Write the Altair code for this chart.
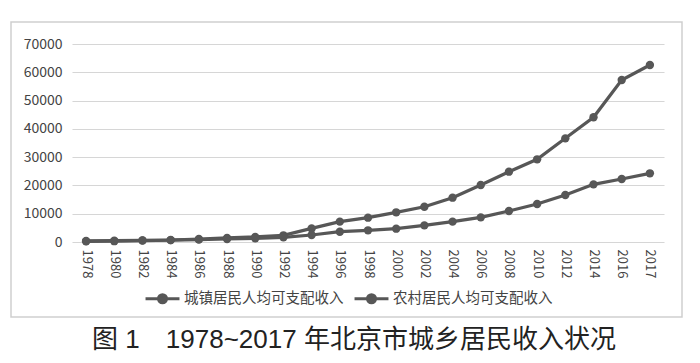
import altair as alt
import pandas as pd

years = ["1978", "1980", "1982", "1984", "1986", "1988", "1990", "1992", "1994", "1996",
         "1998", "2000", "2002", "2004", "2006", "2008", "2010", "2012", "2014", "2016", "2017"]
urban = [365, 500, 560, 700, 1067, 1437, 1787, 2364, 4800, 7190,
         8600, 10490, 12480, 15670, 20150, 24860, 29230, 36650, 44085, 57272, 62575]
rural = [225, 290, 520, 665, 837, 1063, 1300, 1650, 2470, 3640,
         4130, 4710, 5890, 7190, 8720, 10960, 13430, 16600, 20380, 22270, 24280]
series = ["城镇居民人均可支配收入", "农村居民人均可支配收入"]
yticks = [0, 10000, 20000, 30000, 40000, 50000, 60000, 70000]

rows = []
for name, vals in zip(series, [urban, rural]):
    for yr, v in zip(years, vals):
        rows.append({"year": yr, "value": v, "series": name})
df = pd.DataFrame(rows)

FONT = "Noto Sans CJK SC"
TFONT = "Liberation Sans, Noto Sans CJK SC"
GRAY = "#575757"
legend_sym = "M-1.6,0L1.6,0M-0.38,0a0.38,0.38 0 1,0 0.76,0a0.38,0.38 0 1,0 -0.76,0"

base = alt.Chart(df).encode(
    x=alt.X("year:O", sort=years, title=None,
            axis=alt.Axis(labelAngle=90, labelAlign="left", labelBaseline="middle",
                          labelFontSize=13, labelColor="#444", labelPadding=7,
                          ticks=False, domain=False, grid=False)),
    y=alt.Y("value:Q", title=None,
            scale=alt.Scale(domain=[0, 70000], nice=False),
            axis=alt.Axis(values=yticks, format="d", labelFontSize=14, labelColor="#444",
                          labelPadding=10, ticks=False, domain=False,
                          gridColor="#d6d6d6", gridWidth=1.2)),
    color=alt.Color("series:N", sort=series, title=None,
                    scale=alt.Scale(domain=series, range=[GRAY, GRAY]),
                    legend=alt.Legend(orient="none", legendX=72, legendY=242,
                                      direction="horizontal", symbolType=legend_sym,
                                      symbolSize=450, symbolStrokeWidth=3,
                                      symbolFillColor=GRAY, labelFontSize=14.5,
                                      labelColor="#444", columnPadding=4,
                                      labelOffset=9, symbolOffset=6)),
)

lines = base.mark_line(strokeWidth=3.2)
pts = base.mark_circle(size=70, opacity=1)

frame = alt.Chart(pd.DataFrame({"a": [0]})).mark_rect(
    fill=None, stroke="#cfcfcf", strokeWidth=1.5
).encode(x=alt.value(-61), x2=alt.value(610), y=alt.value(-22), y2=alt.value(273))

chart = alt.layer(frame, lines, pts).properties(
    width=592, height=198,
    autosize=alt.AutoSizeParams(type="none"),
    padding={"left": 64, "top": 36, "right": 28, "bottom": 113},
    title=alt.TitleParams("图 1　1978~2017 年北京市城乡居民收入状况", orient="bottom",
                          anchor="middle", fontSize=26, fontWeight="normal",
                          color="#222", font=TFONT, offset=9, dx=-14),
).configure(font=FONT).configure_view(stroke=None)

chart.save("out.html", embed_options={"renderer": "svg", "actions": False})
